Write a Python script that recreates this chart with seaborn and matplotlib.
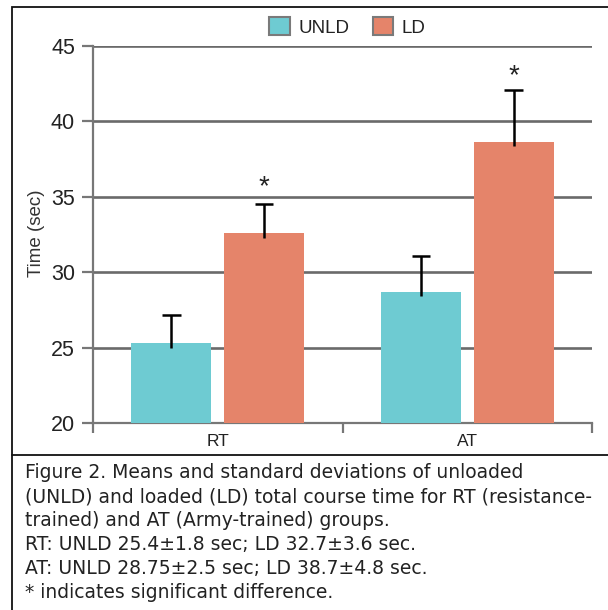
import matplotlib
matplotlib.use("Agg")
import matplotlib.pyplot as plt
from matplotlib.patches import Patch, Rectangle
from matplotlib.lines import Line2D
import seaborn as sns
import pandas as pd

# ---- data ----
groups = ["RT", "AT"]
conditions = ["UNLD", "LD"]
means_unld = [25.3, 28.7]
means_ld = [32.6, 38.65]
err_unld = [1.85, 2.4]
err_ld = [1.9, 3.45]
significant_ld = [True, True]
star_y = [35.2, 42.55]
y_ticks = [20, 25, 30, 35, 40, 45]
caption_lines = [
    "Figure 2. Means and standard deviations of unloaded",
    "(UNLD) and loaded (LD) total course time for RT (resistance-",
    "trained) and AT (Army-trained) groups.",
    "RT: UNLD 25.4\u00b11.8 sec; LD 32.7\u00b13.6 sec.",
    "AT: UNLD 28.75\u00b12.5 sec; LD 38.7\u00b14.8 sec.",
    "* indicates significant difference.",
]
colors = {"UNLD": "#6ECBD2", "LD": "#E5846A"}

df = pd.DataFrame({
    "group": groups * 2,
    "cond": ["UNLD"] * len(groups) + ["LD"] * len(groups),
    "time": means_unld + means_ld,
    "err": err_unld + err_ld,
})

sns.set_theme(style="white")
plt.rcParams["font.family"] = ["Liberation Sans", "DejaVu Sans"]

fig = plt.figure(figsize=(6.08, 6.10), dpi=100)
W, H = 608, 610
ax = fig.add_axes([93 / W, 1 - 423 / H, (592 - 93) / W, (423 - 46) / H])

sns.barplot(data=df, x="group", y="time", hue="cond", order=groups,
            hue_order=conditions, palette=colors, width=0.745, gap=0.14,
            errorbar=None, saturation=1, legend=False, ax=ax, zorder=3,
            linewidth=0)

ax.set_ylim(20, 45)
ax.set_xlim(-0.5, 1.5)
ax.set_yticks(y_ticks)
ax.grid(axis="y", color="#6a6a6a", linewidth=1.9, zorder=1)
ax.grid(axis="x", visible=False)
ax.set_axisbelow(True)

# error bars (upper only) from bar centres
cap_half = 0.037
patches = [p for p in ax.patches if p.get_height() > 0]
for p in patches:
    xc = p.get_x() + p.get_width() / 2
    top = p.get_height()
    row = df[(abs(df["time"] - top) < 1e-9)].iloc[0]
    e = row["err"]
    ax.vlines(xc, top - 0.3, top + e, color="black", linewidth=1.8, zorder=4)
    ax.hlines(top + e, xc - cap_half, xc + cap_half, color="black",
              linewidth=1.8, zorder=4)
    if row["cond"] == "LD":
        gi = groups.index(row["group"])
        if significant_ld[gi]:
            ax.text(xc, star_y[gi], "*", ha="center", va="baseline",
                    fontsize=20, color="#222222", zorder=5)

for s in ["top", "right"]:
    ax.spines[s].set_visible(False)
for s in ["left", "bottom"]:
    ax.spines[s].set_color("#777777")
    ax.spines[s].set_linewidth(1.6)

ax.tick_params(axis="y", direction="out", length=8, width=1.6, color="#777777",
               labelsize=15.5, labelcolor="#222222", pad=5, left=True)
ax.set_xticks([0, 1])
ax.set_xticklabels(groups)
ax.set_xticks([-0.5, 0.5, 1.5], minor=True)
ax.tick_params(axis="x", which="major", length=0, labelsize=12.5,
               labelcolor="#222222", pad=8)
ax.tick_params(axis="x", which="minor", direction="out", length=7.5, width=1.6,
               color="#777777", bottom=True)
ax.set_xlabel("")
ax.set_ylabel("Time (sec)", fontsize=13.5, color="#333333")
ax.yaxis.set_label_coords((45 - 93) / (592 - 93), 0.5 - (233 - 234.5) / 377)

handles = [Patch(facecolor=colors[c], edgecolor="#7a7a7a", linewidth=1.5, label=c)
           for c in conditions]
fig.legend(handles=handles, loc="center", bbox_to_anchor=(347.5 / W, 1 - 27 / H),
           ncol=2, frameon=False, fontsize=13.5, handlelength=1.1, handleheight=1.1,
           handletextpad=0.45, columnspacing=1.25, labelcolor="#222222")

# outer frame and caption separator
fig.add_artist(Rectangle((12 / W, -0.1), 1.2, 1 - 7 / H + 0.1,
                         transform=fig.transFigure, fill=False,
                         edgecolor="#111111", linewidth=1.3))
fig.add_artist(Line2D([12 / W, 1.0], [1 - 455 / H, 1 - 455 / H],
                      transform=fig.transFigure, color="#111111", linewidth=1.3))

line_y = [473, 497, 520, 545, 568, 592]
for txt, yy in zip(caption_lines, line_y):
    fig.text(25 / W, 1 - yy / H, txt, ha="left", va="center", fontsize=13.5,
             color="#222222", family=["DejaVu Sans"])

fig.savefig("out.png", dpi=100)
